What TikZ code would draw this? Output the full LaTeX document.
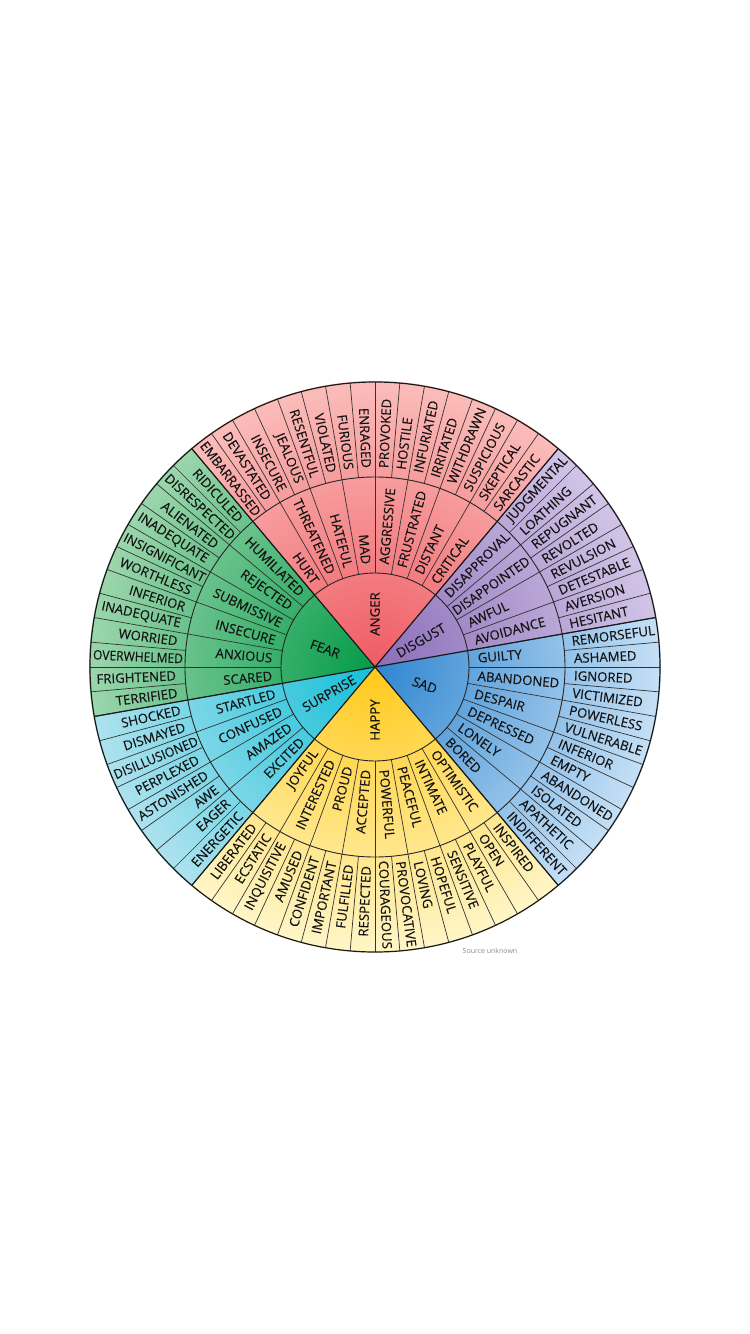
\documentclass[tikz,border=0pt]{standalone}
\usepackage{fontspec}
\setmainfont{Open Sans}
\newfontfamily\wheelfont{Open Sans}[FakeBold=0.3]
\usepackage{xcolor}
\usepackage{graphicx}

\definecolor{angerin}{HTML}{EF5B63}
\definecolor{angerout}{HTML}{FBBDBA}
\definecolor{disgustin}{HTML}{8A6DB8}
\definecolor{disgustout}{HTML}{D2C4E7}
\definecolor{sadin}{HTML}{2F86D0}
\definecolor{sadout}{HTML}{C6E0F6}
\definecolor{happyin}{HTML}{FFC91A}
\definecolor{happyout}{HTML}{FFF6C8}
\definecolor{surprisein}{HTML}{14BFD8}
\definecolor{surpriseout}{HTML}{AEE2EE}
\definecolor{fearin}{HTML}{039B48}
\definecolor{fearout}{HTML}{9CD6AD}

\newcommand{\feelfont}{\wheelfont\fontsize{13.2}{13.2}\selectfont}
\newsavebox{\wordbox}
\newlength{\wordroom}
\newlength{\wordpad}
\newlength{\wordfit}

\tikzset{
  feel/.style={font=\feelfont, inner sep=0pt, text=black!92},
  cut/.style={line width=0.7pt, draw=black!80},
  ringline/.style={line width=0.9pt, draw=black!85},
  border/.style={line width=1.2pt, draw=black!90},
  note/.style={font=\fontsize{7}{7}\selectfont, text=black!45, inner sep=0pt}
}

% word padded at its inner end, squeezed if the ring is too narrow
\newcommand{\ringword}[2]{%
  \sbox\wordbox{#2}%
  \setlength\wordpad{\dimexpr\wordroom-\wd\wordbox\relax}%
  \ifdim\wordpad>9pt \setlength\wordpad{9pt}\fi
  \ifdim\wordpad<2pt
    \setlength\wordpad{2pt}%
    \setlength\wordfit{\dimexpr\wordroom-2pt\relax}%
    \sbox\wordbox{\resizebox{\wordfit}{\height}{#2}}%
  \fi
  \ifnum#1=1 \usebox\wordbox\kern\wordpad\else\kern\wordpad\usebox\wordbox\fi}

% word along the radius, turned so it can be read
\newcommand{\wheeltext}[4]{%
  \pgfmathtruncatemacro{\flip}{(#2>90)*(#2<=270)}%
  \ifnum\flip=1
    \node[feel, rotate=#2+180, anchor=east] (#1) at (#2:#3) {\ringword{1}{#4}};
  \else
    \node[feel, rotate=#2, anchor=west] (#1) at (#2:#3) {\ringword{0}{#4}};
  \fi}

\begin{document}
\begin{tikzpicture}[x=1pt,y=1pt]
  \useasboundingbox[fill=white] (-375,-667) rectangle (375,667);

  % coloured sectors
  \foreach \s/\t/\ci/\co in {10/50/disgustin/disgustout, 50/130/angerin/angerout,
      130/190/fearin/fearout, 190/230/surprisein/surpriseout,
      230/310/happyin/happyout, 310/370/sadin/sadout} {
    \begin{scope}
      \clip (0,0) -- (\s:286) arc[start angle=\s, end angle=\t, radius=286] -- cycle;
      \shade[inner color=\ci, outer color=\co] (0,0) circle (286);
    \end{scope}
  }

  % cell lines
  \foreach \a in {15,25,...,365}
    \draw[cut] (\a:190) -- (\a:285);
  \foreach \a in {0,10,...,350}
    \draw[cut] (\a:94) -- (\a:285);
  \foreach \a in {10,50,130,190,230,310}
    \draw[border] (0,0) -- (\a:285);
  \draw[ringline] (0,0) circle (94);
  \draw[ringline] (0,0) circle (190);
  \draw[border] (0,0) circle (285);

  % core
  \foreach \a/\w in {30/DISGUST, 90/ANGER, 160/FEAR, 210/SURPRISE, 270/HAPPY, 340/SAD} {
    \pgfmathtruncatemacro{\flip}{(\a>90)*(\a<=270)}
    \ifnum\flip=1
      \node[feel, rotate=\a+180] (c\w) at (\a:53) {\w};
    \else
      \node[feel, rotate=\a] (c\w) at (\a:53) {\w};
    \fi
  }

  % middle ring
  \setlength{\wordroom}{93pt}
  \foreach \w [count=\i from 0] in {AVOIDANCE, AWFUL, DISAPPOINTED, DISAPPROVAL,
      CRITICAL, DISTANT, FRUSTRATED, AGGRESSIVE, MAD, HATEFUL, THREATENED, HURT,
      HUMILIATED, REJECTED, SUBMISSIVE, INSECURE, ANXIOUS, SCARED,
      STARTLED, CONFUSED, AMAZED, EXCITED,
      JOYFUL, INTERESTED, PROUD, ACCEPTED, POWERFUL, PEACEFUL, INTIMATE, OPTIMISTIC,
      BORED, LONELY, DEPRESSED, DESPAIR, ABANDONED, GUILTY} {
    \pgfmathsetmacro{\ang}{mod(15+10*\i,360)}
    \wheeltext{m\i}{\ang}{94}{\w}
  }

  % outer ring
  \setlength{\wordroom}{92pt}
  \foreach \w [count=\i from 0] in {HESITANT, AVERSION, DETESTABLE, REVULSION,
      REVOLTED, REPUGNANT, LOATHING, JUDGMENTAL,
      SARCASTIC, SKEPTICAL, SUSPICIOUS, WITHDRAWN, IRRITATED, INFURIATED, HOSTILE,
      PROVOKED, ENRAGED, FURIOUS, VIOLATED, RESENTFUL, JEALOUS, INSECURE,
      DEVASTATED, EMBARRASSED,
      RIDICULED, DISRESPECTED, ALIENATED, INADEQUATE, INSIGNIFICANT, WORTHLESS,
      INFERIOR, INADEQUATE, WORRIED, OVERWHELMED, FRIGHTENED, TERRIFIED,
      SHOCKED, DISMAYED, DISILLUSIONED, PERPLEXED, ASTONISHED, AWE, EAGER, ENERGETIC,
      LIBERATED, ECSTATIC, INQUISITIVE, AMUSED, CONFIDENT, IMPORTANT, FULFILLED,
      RESPECTED, COURAGEOUS, PROVOCATIVE, LOVING, HOPEFUL, SENSITIVE, PLAYFUL,
      OPEN, INSPIRED,
      INDIFFERENT, APATHETIC, ISOLATED, ABANDONED, EMPTY, INFERIOR, VULNERABLE,
      POWERLESS, VICTIMIZED, IGNORED, ASHAMED, REMORSEFUL} {
    \pgfmathsetmacro{\ang}{mod(12.5+5*\i,360)}
    \wheeltext{o\i}{\ang}{190}{\w}
  }

  \node[note] (src) at (115,-284) {Source unknown};
\end{tikzpicture}
\end{document}
